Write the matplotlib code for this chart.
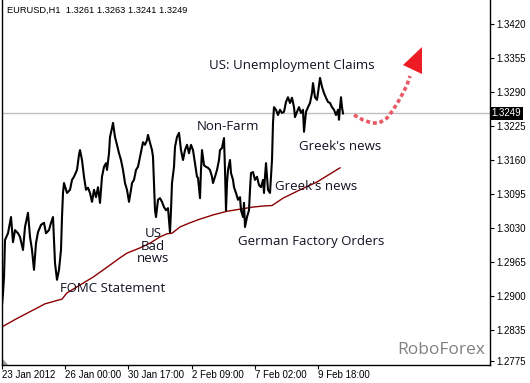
import matplotlib
matplotlib.use("Agg")
import matplotlib.pyplot as plt
from matplotlib.patches import Polygon

# hourly bars (index from the first bar on the chart) and prices
bars = [0, 1, 2, 3, 6, 9, 11, 13, 16, 18, 21, 23, 26, 28, 30, 32, 34, 36, 39, 42,
        44, 47, 49, 51, 52, 53, 55, 57, 59, 60, 61, 62, 64, 65, 68, 70, 72, 75, 77, 78,
        80, 82, 84, 86, 88, 90, 92, 94, 96, 98, 100, 102, 104, 105, 107, 108, 110, 111, 113, 115,
        117, 119, 121, 123, 125, 127, 129, 130, 132, 134, 136, 138, 140, 141, 143, 145, 146, 148, 150, 151,
        152, 153, 154, 156, 158, 160, 162, 164, 166, 168, 169, 170, 172, 173, 175, 177, 179, 181, 183, 185,
        187, 189, 191, 193, 195, 196, 198, 199, 200, 202, 204, 206, 208, 210, 211, 213, 215, 217, 218, 220,
        222, 223, 224, 225, 226, 228, 229, 231, 232, 234, 236, 238, 239, 241, 242, 243, 245, 247, 248, 249,
        251, 253, 255, 257, 259, 261, 262, 263, 264, 265, 266, 268, 270, 271, 272, 274, 276, 278, 280, 282,
        284, 286, 288, 290, 292, 293, 295, 297, 299, 301, 302, 304, 306, 308, 310, 311, 313, 315, 316, 318,
        320, 322, 324, 326, 328, 330, 332, 334, 336, 337, 338, 339, 340, 341]
close = [1.2883, 1.2905, 1.2936, 1.3007, 1.3020, 1.3051, 1.3003, 1.3026, 1.3020, 1.3013, 1.2988, 1.3032, 1.3059, 1.3013, 1.2988, 1.2950, 1.3001, 1.3022, 1.3036, 1.3040,
         1.3020, 1.3026, 1.3040, 1.3051, 1.3007, 1.2963, 1.2931, 1.2950, 1.2988, 1.3051, 1.3097, 1.3116, 1.3103, 1.3097, 1.3103, 1.3122, 1.3128, 1.3141, 1.3170, 1.3179,
         1.3160, 1.3128, 1.3103, 1.3107, 1.3097, 1.3080, 1.3103, 1.3089, 1.3108, 1.3078, 1.3128, 1.3147, 1.3154, 1.3141, 1.3173, 1.3204, 1.3221, 1.3231, 1.3204, 1.3189,
         1.3173, 1.3160, 1.3141, 1.3116, 1.3103, 1.3080, 1.3103, 1.3116, 1.3122, 1.3141, 1.3147, 1.3166, 1.3185, 1.3194, 1.3189, 1.3198, 1.3208, 1.3193, 1.3179, 1.3166,
         1.3116, 1.3064, 1.3051, 1.3084, 1.3087, 1.3080, 1.3070, 1.3064, 1.3068, 1.3022, 1.3064, 1.3116, 1.3147, 1.3185, 1.3204, 1.3212, 1.3179, 1.3160, 1.3179, 1.3189,
         1.3173, 1.3189, 1.3179, 1.3154, 1.3128, 1.3126, 1.3087, 1.3141, 1.3179, 1.3150, 1.3147, 1.3145, 1.3141, 1.3128, 1.3116, 1.3128, 1.3141, 1.3160, 1.3179, 1.3183,
         1.3202, 1.3141, 1.3064, 1.3116, 1.3141, 1.3160, 1.3135, 1.3122, 1.3108, 1.3097, 1.3084, 1.3089, 1.3064, 1.3051, 1.3078, 1.3032, 1.3051, 1.3064, 1.3103, 1.3135,
         1.3137, 1.3122, 1.3128, 1.3112, 1.3108, 1.3122, 1.3097, 1.3128, 1.3154, 1.3128, 1.3103, 1.3097, 1.3160, 1.3231, 1.3261, 1.3256, 1.3246, 1.3256, 1.3250, 1.3252,
         1.3271, 1.3280, 1.3269, 1.3279, 1.3261, 1.3242, 1.3252, 1.3261, 1.3250, 1.3256, 1.3214, 1.3252, 1.3261, 1.3269, 1.3288, 1.3307, 1.3280, 1.3275, 1.3288, 1.3317,
         1.3300, 1.3288, 1.3279, 1.3271, 1.3269, 1.3261, 1.3256, 1.3246, 1.3256, 1.3237, 1.3261, 1.3280, 1.3261, 1.3249]

ma_bars = [0, 14, 31, 43, 56, 60, 65, 78, 91, 105, 118, 125, 138, 148, 158, 165, 170, 178, 188, 198,
           211, 225, 238, 251, 261, 270, 281, 298, 315, 326, 338]
ma_vals = [1.2841, 1.2856, 1.2873, 1.2885, 1.2892, 1.2894, 1.2906, 1.2921, 1.2936, 1.2955, 1.2973, 1.2982, 1.2992, 1.3001, 1.3013, 1.3019, 1.3020, 1.3032, 1.3040, 1.3047,
           1.3055, 1.3062, 1.3066, 1.3070, 1.3072, 1.3073, 1.3087, 1.3103, 1.3118, 1.3131, 1.3145]

last_price = 1.3249
header = "EURUSD,H1  1.3261 1.3263 1.3241 1.3249"

ytick_vals = [1.2775, 1.2835, 1.2900, 1.2965, 1.3030, 1.3095, 1.3160, 1.3225, 1.3290, 1.3355, 1.3420]
xtick_bars = [0, 63, 126, 190, 253, 316]
xtick_labels = ["23 Jan 2012", "26 Jan 00:00", "30 Jan 17:00", "2 Feb 09:00", "7 Feb 02:00", "9 Feb 18:00"]

# news labels: text, bar, price
notes = [
    ("US: Unemployment Claims", 290, 1.33416),
    ("Non-Farm", 226, 1.32250),
    ("Greek's news", 338, 1.31849),
    ("Greek's news", 314, 1.31084),
    ("German Factory Orders", 309, 1.30033),
    ("US\nBad\nnews", 151, 1.29956),
    ("FOMC Statement", 111, 1.29153),
]

# forecast arrow path
arrow_bars = [352, 361, 370, 377, 385, 391, 396, 401, 405, 408]
arrow_prices = [1.32460, 1.32365, 1.32307, 1.32307, 1.32403, 1.32556, 1.32709, 1.32881, 1.33034, 1.33206]
head_bars = [401, 420, 420]
head_prices = [1.33416, 1.33760, 1.33244]

fig = plt.figure(figsize=(5.30, 3.83), dpi=100)
ax = fig.add_axes([2 / 530, 18 / 383, 488 / 530, 365 / 383])
ax.set_xlim(0, 488)
ax.set_ylim(1.27681, 1.34659)

ax.axhline(last_price, color="#c0c0c0", lw=1.0, zorder=1)
ax.plot(ma_bars, ma_vals, color="#8b0000", lw=1.0, zorder=2)
ax.plot(bars, close, color="black", lw=1.5, zorder=3)

ax.plot(arrow_bars, arrow_prices, color="#e85a66", lw=2.6, dashes=(1.1, 0.8), zorder=4)
ax.add_patch(Polygon(list(zip(head_bars, head_prices)), closed=True,
                     facecolor="#ed1c24", edgecolor="none", zorder=5))

for txt, b, p in notes:
    ax.text(b, p, txt, fontsize=9.5, family="Open Sans", color="#111122",
            ha="center", va="center", linespacing=0.95, zorder=6)

ax.text(0.01, 0.985, header, transform=ax.transAxes, fontsize=6.7,
        family="Liberation Sans", ha="left", va="top")
ax.text(0.99, 0.02, "RoboForex", transform=ax.transAxes, fontsize=12.5,
        family="Open Sans", color="#808080", ha="right", va="bottom")

# current price tag on the axis
ax.text(1.003, last_price, "%.4f" % last_price, transform=ax.get_yaxis_transform(),
        fontsize=7, family="Liberation Sans", color="white", ha="left", va="center",
        bbox=dict(boxstyle="square,pad=0.2", facecolor="black", edgecolor="none"),
        clip_on=False, zorder=7)

# small shift marker in the lower left corner
ax.add_patch(Polygon([(0.002, 0.0), (0.013, 0.0), (0.002, 0.016)], closed=True,
                     transform=ax.transAxes, facecolor="#a0a0a0", edgecolor="none"))

ax.yaxis.tick_right()
ax.set_yticks(ytick_vals)
ax.set_yticklabels(["%.4f" % v for v in ytick_vals])
ax.set_xticks(xtick_bars)
ax.set_xticklabels(xtick_labels, ha="left")
ax.tick_params(axis="both", labelsize=7, length=3, width=0.8)
ax.tick_params(axis="y", pad=1.5)
ax.tick_params(axis="x", pad=0.5)
for lab in ax.get_xticklabels() + ax.get_yticklabels():
    lab.set_family("Liberation Sans")

ax.spines["top"].set_visible(False)
for s in ["left", "right", "bottom"]:
    ax.spines[s].set_linewidth(1.0)

fig.savefig("out.png", dpi=100)
